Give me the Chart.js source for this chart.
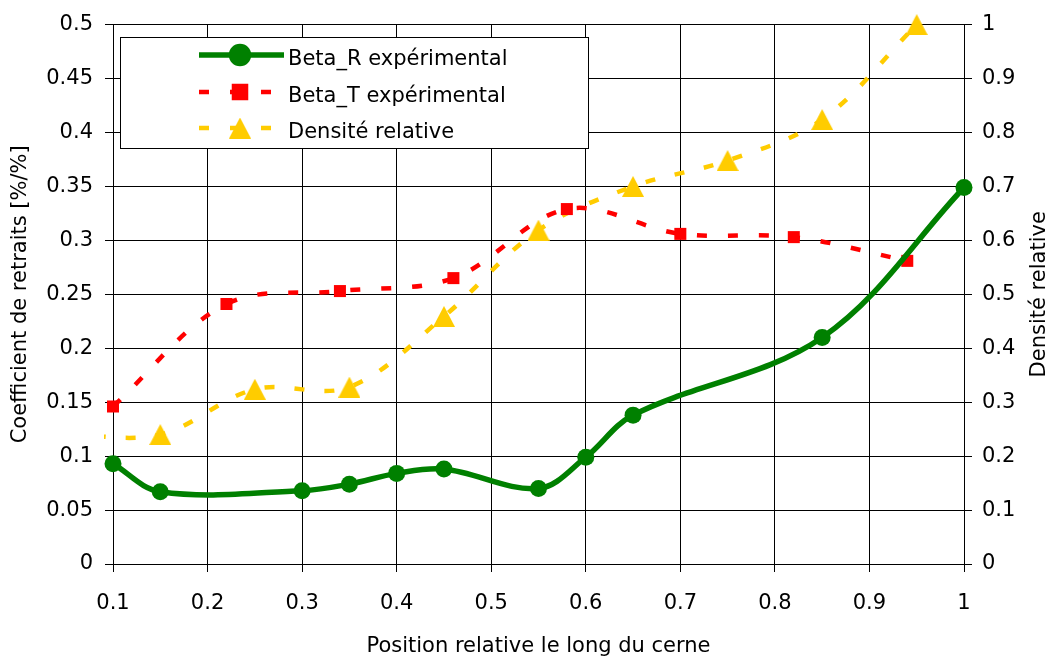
<!DOCTYPE html>
<html>
<head>
<meta charset="utf-8">
<script src="https://cdn.jsdelivr.net/npm/chart.js@4/dist/chart.umd.min.js"></script>
<style>
  html,body{margin:0;padding:0;background:#fff;}
  #wrap{width:1051px;height:664px;}
</style>
</head>
<body>
<div id="wrap"><canvas id="chart" width="1051" height="664"></canvas></div>
<script>
// Beta_R experimental (left axis)
const betaR_x = [0.1, 0.15, 0.3, 0.35, 0.4, 0.45, 0.55, 0.6, 0.65, 0.85, 1.0];
const betaR_y = [0.093, 0.067, 0.068, 0.074, 0.084, 0.088, 0.070, 0.099, 0.138, 0.210, 0.349];

// Beta_T experimental (left axis)
const betaT_x = [0.1, 0.22, 0.34, 0.46, 0.58, 0.70, 0.82, 0.94];
const betaT_y = [0.146, 0.241, 0.253, 0.265, 0.329, 0.306, 0.303, 0.281];

// Densite relative (right axis)
const dens_x = [0.05, 0.15, 0.25, 0.35, 0.45, 0.55, 0.65, 0.75, 0.85, 0.95];
const dens_y = [0.24, 0.24, 0.324, 0.328, 0.459, 0.619, 0.70, 0.748, 0.824, 1.0];

const xTitle = 'Position relative le long du cerne';
const yTitle = 'Coefficient de retraits [%/%]';
const y2Title = 'Densité relative';
const legendLabels = ['Beta_R expérimental', 'Beta_T expérimental', 'Densité relative'];

const GREEN = '#008000', RED = '#ff0000', YELLOW = '#ffcc00';
const FONT = 'DejaVu Sans';

Chart.defaults.font.family = FONT;
Chart.defaults.font.size = 21;
Chart.defaults.color = '#000';

const pts = (xs, ys) => xs.map((x, i) => ({x, y: ys[i]}));
const fmt = v => String(+v.toFixed(2));

// triangle marker centred on its box, like Excel does
function makeTriangle(w, h, color){
  const c = document.createElement('canvas');
  c.width = w; c.height = h;
  const g = c.getContext('2d');
  g.fillStyle = color;
  g.beginPath();
  g.moveTo(w/2, 0);
  g.lineTo(w, h);
  g.lineTo(0, h);
  g.closePath();
  g.fill();
  return c;
}
const triMark = makeTriangle(22, 21, YELLOW);

// legend box + right title, drawn by hand
const extras = {
  id: 'extras',
  afterDraw(chart){
    const ctx = chart.ctx;
    ctx.save();
    // right axis title (reads bottom to top)
    ctx.font = `21px ${FONT}`;
    ctx.fillStyle = '#000';
    ctx.textAlign = 'center';
    ctx.textBaseline = 'middle';
    ctx.translate(1040, (chart.chartArea.top + chart.chartArea.bottom)/2);
    ctx.rotate(-Math.PI/2);
    ctx.fillText(y2Title, 0, 0);
    ctx.restore();

    ctx.save();
    ctx.fillStyle = '#fff';
    ctx.strokeStyle = '#000';
    ctx.lineWidth = 1;
    ctx.fillRect(120.5, 37.5, 468, 111);
    ctx.strokeRect(120.5, 37.5, 468, 111);
    const rows = [
      {y: 55, base: 65, color: GREEN, dash: [], w: 5.5, style: 'circle', r: 8.5},
      {y: 92, base: 102, color: RED, dash: [10, 21], w: 4.5, style: 'rect', r: 8.5},
      {y: 128, base: 138, color: YELLOW, dash: [10, 21], w: 4.5, style: triMark, r: 11}
    ];
    rows.forEach((row, i) => {
      ctx.beginPath();
      ctx.setLineDash(row.dash);
      ctx.strokeStyle = row.color;
      ctx.lineWidth = row.w;
      ctx.moveTo(199, row.y);
      ctx.lineTo(284, row.y);
      ctx.stroke();
      ctx.setLineDash([]);
      ctx.fillStyle = row.color;
      Chart.helpers.drawPoint(ctx, {pointStyle: row.style, radius: row.r, borderWidth: 1, rotation: 0}, 240, row.y);
      if (typeof row.style === 'string') ctx.fill();
      ctx.fillStyle = '#000';
      ctx.font = `21px ${FONT}`;
      ctx.textAlign = 'left';
      ctx.textBaseline = 'alphabetic';
      ctx.fillText(legendLabels[i], 288, row.base);
    });
    ctx.restore();
  }
};

new Chart(document.getElementById('chart'), {
  type: 'line',
  data: {
    datasets: [
      {
        label: legendLabels[0],
        data: pts(betaR_x, betaR_y),
        yAxisID: 'y',
        borderColor: GREEN, backgroundColor: GREEN,
        borderWidth: 5.5, tension: 0.35,
        pointStyle: 'circle', pointRadius: 8.5, pointBorderWidth: 0,
        clip: false
      },
      {
        label: legendLabels[1],
        data: pts(betaT_x, betaT_y),
        yAxisID: 'y',
        borderColor: RED, backgroundColor: RED,
        borderWidth: 4.5, borderDash: [10, 21], tension: 0.35,
        pointStyle: 'rect', pointRadius: 8.5, pointBorderWidth: 0,
        clip: false
      },
      {
        label: legendLabels[2],
        data: pts(dens_x, dens_y),
        yAxisID: 'y2',
        borderColor: YELLOW, backgroundColor: YELLOW,
        borderWidth: 4.5, borderDash: [10, 20], tension: 0.35,
        pointStyle: triMark, pointRadius: 11, pointBorderWidth: 0,
        clip: {left: 9, top: 15, right: 15, bottom: 15}
      }
    ]
  },
  options: {
    responsive: false,
    animation: false,
    layout: {padding: {top: 20, left: 0, right: 0, bottom: 0}},
    plugins: {legend: {display: false}, tooltip: {enabled: false}},
    scales: {
      x: {
        type: 'linear', min: 0.1, max: 1,
        ticks: {stepSize: 0.1, padding: 19, callback: fmt, maxRotation: 0},
        grid: {color: '#000', lineWidth: 1, tickLength: 8},
        border: {color: '#000'},
        title: {display: true, text: xTitle, font: {size: 21}, padding: {top: 0, bottom: 5}},
        afterFit(s){ s.height = 100; }
      },
      y: {
        position: 'left', min: 0, max: 0.5,
        ticks: {stepSize: 0.05, padding: 12, callback: fmt},
        grid: {color: '#000', lineWidth: 1, tickLength: 8},
        border: {color: '#000'},
        title: {display: true, text: yTitle, font: {size: 21}, padding: {top: 8, bottom: 0}},
        afterFit(s){ s.width = 113; }
      },
      y2: {
        position: 'right', min: 0, max: 1,
        ticks: {stepSize: 0.1, padding: 10, callback: fmt},
        grid: {drawOnChartArea: false, color: '#000', lineWidth: 1, tickLength: 8},
        border: {color: '#000'},
        afterFit(s){ s.width = 87; }
      }
    }
  },
  plugins: [extras]
});
</script>
</body>
</html>
